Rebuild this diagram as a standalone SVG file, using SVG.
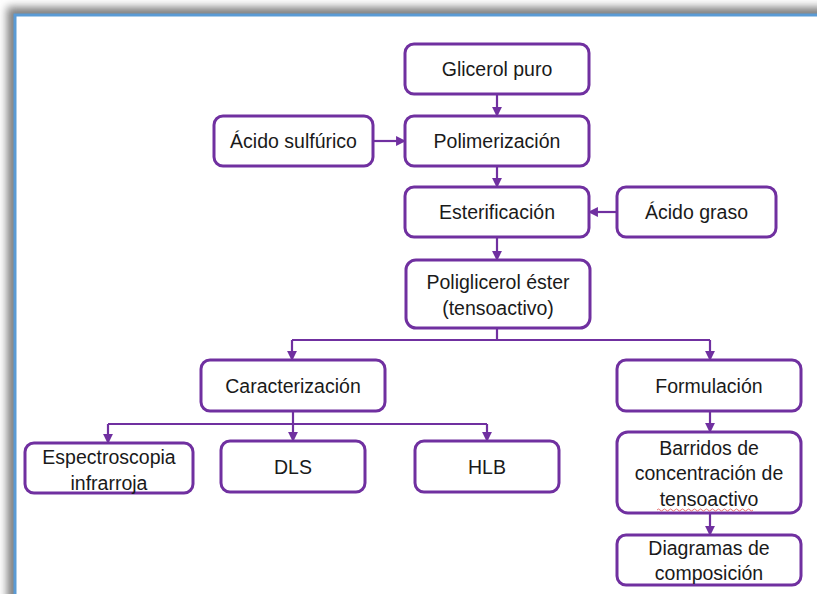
<svg xmlns="http://www.w3.org/2000/svg" width="817" height="594" viewBox="0 0 817 594">
<defs>
<filter id="sh" x="-10%" y="-10%" width="130%" height="130%"><feGaussianBlur stdDeviation="4"/></filter>
<marker id="ah" viewBox="0 0 10 10" refX="9" refY="5" markerWidth="4.5" markerHeight="4.5" orient="auto"><path d="M0,0 L10,5 L0,10 z" fill="#7030A0"/></marker>
</defs>
<style>
.n rect{fill:#fff;stroke:#7030A0;stroke-width:3}
.n text{font-family:"Liberation Sans",Arial,sans-serif;font-size:19.5px;fill:#1a1a1a;text-anchor:middle}
.c path{fill:none;stroke:#7030A0;stroke-width:2.2}
.c .a{marker-end:url(#ah)}
</style>
<rect x="0" y="0" width="817" height="594" fill="#fff"/>
<rect x="7" y="7" width="900" height="700" fill="#808080" filter="url(#sh)"/>
<rect x="15" y="15" width="900" height="700" fill="#fff" stroke="#5B9BD5" stroke-width="3"/>
<g class="c" id="connectors">
<path class="a" d="M497,94 V116"/>
<path class="a" d="M373,141 H405"/>
<path class="a" d="M497,166 V187"/>
<path class="a" d="M617,212 H589"/>
<path class="a" d="M497,238 V260"/>
<path d="M497,328 V340 M292,340 H710"/>
<path class="a" d="M292,340 V360"/>
<path class="a" d="M710,340 V360"/>
<path d="M293,411 V424 M108,424 H487"/>
<path class="a" d="M108,424 V443"/>
<path class="a" d="M293,424 V441"/>
<path class="a" d="M487,424 V441"/>
<path class="a" d="M710,411 V432"/>
<path class="a" d="M710,513 V535"/>
</g>
<g class="n" id="glicerol"><rect x="405" y="44" width="184" height="50" rx="9"/><text x="497" y="76">Glicerol puro</text></g>
<g class="n" id="acido-sulfurico"><rect x="214" y="116" width="159" height="50" rx="9"/><text x="293.5" y="148">Ácido sulfúrico</text></g>
<g class="n" id="polimerizacion"><rect x="405" y="116" width="184" height="50" rx="9"/><text x="497" y="148">Polimerización</text></g>
<g class="n" id="esterificacion"><rect x="405" y="187" width="184" height="50" rx="9"/><text x="497" y="219">Esterificación</text></g>
<g class="n" id="acido-graso"><rect x="617" y="187" width="159" height="50" rx="9"/><text x="696.5" y="219">Ácido graso</text></g>
<g class="n" id="poliglicerol"><rect x="406" y="260" width="184" height="68" rx="10"/><text x="498" y="289">Poliglicerol éster</text><text x="498" y="315">(tensoactivo)</text></g>
<g class="n" id="caracterizacion"><rect x="201" y="360" width="184" height="51" rx="9"/><text x="293" y="393">Caracterización</text></g>
<g class="n" id="formulacion"><rect x="617" y="360" width="184" height="51" rx="9"/><text x="709" y="393">Formulación</text></g>
<g class="n" id="espectroscopia"><rect x="25" y="443" width="168" height="50" rx="9"/><text x="109" y="464">Espectroscopia</text><text x="109" y="490">infrarroja</text></g>
<g class="n" id="dls"><rect x="221" y="441" width="144" height="51" rx="9"/><text x="293" y="474">DLS</text></g>
<g class="n" id="hlb"><rect x="415" y="441" width="144" height="51" rx="9"/><text x="487" y="474">HLB</text></g>
<g class="n" id="barridos"><rect x="617" y="432" width="184" height="81" rx="11"/><text x="709" y="455">Barridos de</text><text x="709" y="480">concentración de</text><text x="709" y="506">tensoactivo</text></g>
<path d="M657,510 q1.5,-2 3,0 t3,0 t3,0 t3,0 t3,0 t3,0 t3,0 t3,0 t3,0 t3,0 t3,0 t3,0 t3,0 t3,0 t3,0 t3,0 t3,0 t3,0 t3,0 t3,0 t3,0 t3,0 t3,0 t3,0 t3,0 t3,0 t3,0 t3,0 t3,0 t3,0 t3,0 t3,0" fill="none" stroke="#e05050" stroke-width="0.8"/>
<g class="n" id="diagramas"><rect x="617" y="535" width="184" height="50" rx="9"/><text x="709" y="555">Diagramas de</text><text x="709" y="580">composición</text></g>
</svg>
